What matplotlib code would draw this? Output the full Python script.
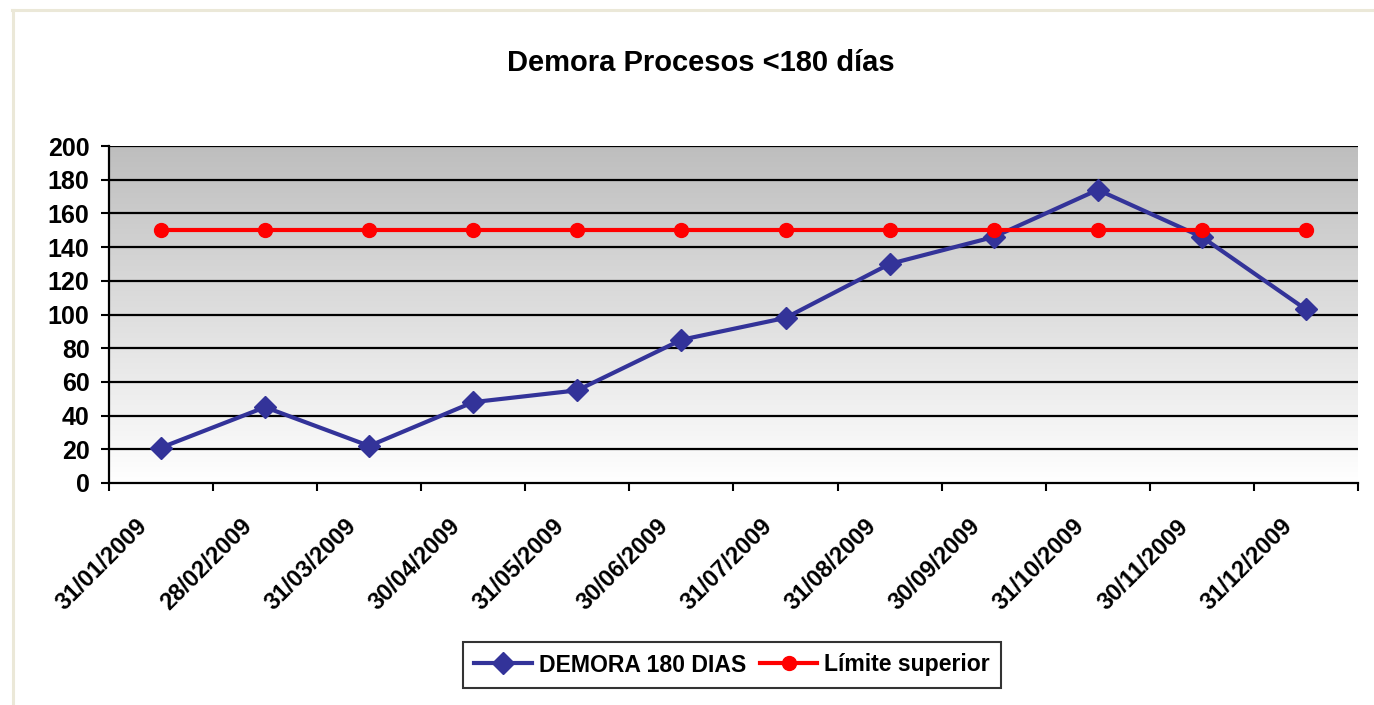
import numpy as np
import matplotlib
matplotlib.use("Agg")
import matplotlib.pyplot as plt
from matplotlib.transforms import ScaledTranslation
from matplotlib.lines import Line2D

categories = ["31/01/2009", "28/02/2009", "31/03/2009", "30/04/2009", "31/05/2009",
              "30/06/2009", "31/07/2009", "31/08/2009", "30/09/2009", "31/10/2009",
              "30/11/2009", "31/12/2009"]
demora = [21, 45, 22, 48, 55, 85, 98, 130, 146, 174, 146, 103]
limite = [150] * 12
yticks = [0, 20, 40, 60, 80, 100, 120, 140, 160, 180, 200]

title = "Demora Procesos <180 días"
name_demora = "DEMORA 180 DIAS"
name_limite = "Límite superior"

plt.rcParams['font.family'] = ['Liberation Sans', 'DejaVu Sans']
plt.rcParams['font.weight'] = 'bold'

W, H = 1374, 705
fig = plt.figure(figsize=(W / 100, H / 100), dpi=100)
fig.patch.set_facecolor('white')

# beige frame lines (top and left)
fig.add_artist(Line2D([12.5 / W, 1.0], [1 - 9.5 / H, 1 - 9.5 / H], color='#ebe8d8', lw=2.2,
                      transform=fig.transFigure))
fig.add_artist(Line2D([13 / W, 13 / W], [0, 1 - 9.5 / H], color='#ebe8d8', lw=2.2,
                      transform=fig.transFigure))

left, right, top, bottom = 109, 1358, 146, 483
ax = fig.add_axes([left / W, 1 - bottom / H, (right - left) / W, (bottom - top) / H])

x = np.arange(len(categories))
ax.set_xlim(-0.5, len(categories) - 0.5)
ax.set_ylim(0, 200)

# gradient background
grad = np.linspace(1.0, 0.0, 256).reshape(-1, 1)
ax.imshow(grad, extent=(-0.5, len(categories) - 0.5, 0, 200), aspect='auto',
          cmap=matplotlib.colors.LinearSegmentedColormap.from_list('g', ['#ffffff', '#bebebe']),
          vmin=0, vmax=1, zorder=0, origin='upper')

for yv in yticks[1:]:
    ax.axhline(yv, color='black', lw=1.6, zorder=1)

ax.plot(x, demora, color='#333399', lw=3, marker='D', ms=11, zorder=3, label=name_demora)
ax.plot(x, limite, color='#ff0000', lw=3, marker='o', ms=10, zorder=3, label=name_limite)

for s in ['top', 'right']:
    ax.spines[s].set_visible(False)
for s in ['left', 'bottom']:
    ax.spines[s].set_linewidth(1.6)
    ax.spines[s].set_color('black')

ax.set_yticks(yticks)
ax.set_yticklabels([str(v) for v in yticks], fontsize=18, fontweight='bold')
ax.tick_params(axis='y', length=6, width=1.5, pad=8)

ax.set_xticks(x)
ax.set_xticks(np.arange(len(categories) + 1) - 0.5, minor=True)
ax.tick_params(axis='x', which='major', length=0, pad=0)
ax.tick_params(axis='x', which='minor', length=6, width=1.5)
labels = ax.set_xticklabels(categories, fontsize=17, fontweight='bold', rotation=45,
                            ha='right', va='center', rotation_mode='anchor')
off = ScaledTranslation(-0.17, -0.40, fig.dpi_scale_trans)
for lab in labels:
    lab.set_transform(lab.get_transform() + off)

fig.text(701 / W, 1 - 63 / H, title, ha='center', va='center', fontsize=21, fontweight='bold')

leg = fig.legend(loc='center', bbox_to_anchor=(732 / W, 1 - 665 / H), ncol=2,
                 prop={'weight': 'bold', 'size': 16.6}, frameon=True, fancybox=False,
                 edgecolor='black', handlelength=2.5, columnspacing=0.6, handletextpad=0.3,
                 borderpad=0.5)
leg.get_frame().set_linewidth(1.5)

fig.savefig('out.png', dpi=100, facecolor='white')
